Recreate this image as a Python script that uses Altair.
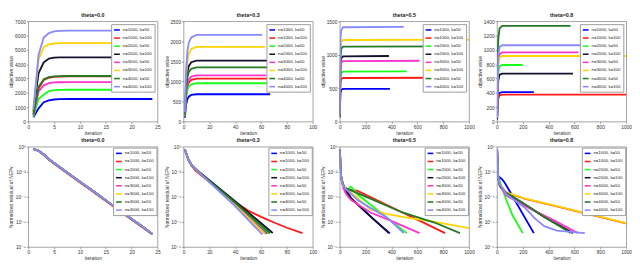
import altair as alt
import pandas as pd

series = ["n=1000, k=50", "n=1000, k=100", "n=2000, k=50", "n=2000, k=100",
          "n=3000, k=50", "n=3000, k=100", "n=4000, k=50", "n=4000, k=100"]
colors = ["#0000ff", "#ff1a1a", "#19ff19", "#12122e", "#ff33cc", "#ffd400", "#237a23", "#8a8aff"]

titles = ["theta=0.0", "theta=0.3", "theta=0.5", "theta=0.8"]

# ---------- top row: objective value ----------
t00_obj_x = [1, 2, 3, 4, 5, 6, 8, 24]
t00_obj_y = [
    [300, 920, 1350, 1480, 1540, 1565, 1575, 1575],
    [500, 2300, 2900, 3060, 3120, 3140, 3150, 3150],
    [350, 1570, 1890, 2120, 2190, 2210, 2220, 2220],
    [700, 3390, 4140, 4400, 4460, 4480, 4485, 4485],
    [450, 2100, 2530, 2680, 2730, 2745, 2750, 2750],
    [800, 4360, 5210, 5390, 5450, 5470, 5480, 5480],
    [500, 2420, 2960, 3100, 3160, 3175, 3180, 3180],
    [900, 4680, 5860, 6180, 6300, 6330, 6350, 6350],
]

t03_obj_x = [
    [1, 2, 3, 4, 6, 10, 67], [1, 2, 3, 4, 6, 10, 92], [1, 2, 3, 4, 6, 10, 65], [1, 2, 3, 4, 6, 10, 69],
    [1, 2, 3, 4, 6, 10, 64], [1, 2, 3, 4, 6, 10, 63], [1, 2, 3, 4, 6, 10, 67], [1, 2, 3, 4, 6, 10, 61],
]
t03_obj_y = [
    [100, 420, 560, 620, 665, 680, 680],
    [150, 650, 870, 970, 1040, 1070, 1070],
    [130, 580, 780, 870, 930, 955, 955],
    [180, 900, 1230, 1380, 1480, 1520, 1520],
    [150, 700, 940, 1050, 1120, 1150, 1150],
    [200, 1100, 1500, 1690, 1810, 1860, 1860],
    [170, 800, 1100, 1230, 1315, 1350, 1350],
    [230, 1300, 1750, 1960, 2100, 2160, 2160],
]

t05_obj_x = [
    [1, 3, 6, 12, 25, 388], [1, 3, 6, 12, 25, 815], [1, 3, 6, 12, 25, 518], [1, 3, 6, 12, 25, 380],
    [1, 3, 6, 12, 25, 617], [1, 3, 6, 12, 25, 1000], [1, 3, 6, 12, 25, 930], [1, 3, 6, 12, 25, 495],
]
t05_obj_y = [
    [60, 300, 430, 475, 488, 490],
    [70, 400, 580, 635, 652, 655],
    [80, 460, 660, 725, 747, 750],
    [90, 600, 860, 950, 976, 980],
    [90, 560, 800, 880, 905, 910],
    [100, 750, 1080, 1190, 1220, 1225],
    [100, 690, 990, 1090, 1120, 1125],
    [110, 870, 1250, 1370, 1410, 1415],
]

t08_obj_x = [
    [1, 4, 10, 20, 40, 285], [1, 4, 10, 20, 40, 1000], [1, 4, 10, 20, 40, 200], [1, 4, 10, 20, 40, 588],
    [1, 4, 10, 20, 40, 630], [1, 4, 10, 20, 40, 1000], [1, 4, 10, 20, 40, 570], [1, 4, 10, 20, 40, 680],
]
t08_obj_y = [
    [30, 200, 350, 400, 410, 410],
    [30, 180, 320, 365, 375, 375],
    [40, 380, 680, 770, 790, 790],
    [40, 320, 570, 655, 670, 670],
    [50, 460, 830, 940, 965, 965],
    [50, 440, 790, 890, 915, 915],
    [60, 640, 1150, 1300, 1335, 1335],
    [50, 510, 920, 1040, 1065, 1065],
]

# ---------- bottom row: normalized residual ----------
t00_res_x = [1, 2, 3, 4, 5, 6, 8, 10, 12, 14, 16, 18, 20, 22, 24]
t00_res_main = [0.66, 0.47, 0.24, 0.1, 0.049, 0.025, 6.3e-3, 1.6e-3, 4.1e-4, 1.05e-4,
                2.6e-5, 6.7e-6, 1.7e-6, 4.4e-7, 1.1e-7]
t00_res_red = [0.62, 0.43, 0.21, 0.088, 0.043, 0.022, 5.5e-3, 1.4e-3, 3.6e-4, 9.2e-5,
               2.3e-5, 5.9e-6, 1.5e-6, 3.9e-7, 9.7e-8]

t03_res_x = [
    [1, 2, 3, 4, 6, 9, 38, 65],
    [1, 2, 3, 4, 6, 9, 20, 38, 50, 60, 70, 80, 92],
    [1, 2, 3, 4, 6, 9, 38, 66],
    [1, 2, 3, 4, 6, 9, 38, 69],
    [1, 2, 3, 4, 6, 9, 38, 64],
    [1, 2, 3, 4, 6, 9, 38, 63],
    [1, 2, 3, 4, 6, 9, 38, 67],
    [1, 2, 3, 4, 6, 9, 38, 61],
]
t03_res_y = [
    [0.6, 0.3, 0.16, 0.085, 0.038, 0.017, 4e-5, 1.2e-7],
    [0.6, 0.3, 0.15, 0.075, 0.033, 0.013, 1.5e-3, 5e-5, 7.9e-6, 2.5e-6, 8.9e-7, 3.4e-7, 1.25e-7],
    [0.6, 0.3, 0.16, 0.085, 0.038, 0.017, 4.5e-5, 1.2e-7],
    [0.6, 0.3, 0.16, 0.085, 0.038, 0.017, 6.3e-5, 1.3e-7],
    [0.6, 0.3, 0.16, 0.085, 0.038, 0.017, 3.5e-5, 1.1e-7],
    [0.6, 0.3, 0.16, 0.085, 0.038, 0.017, 3.2e-5, 1.1e-7],
    [0.6, 0.3, 0.16, 0.085, 0.038, 0.017, 5e-5, 1.2e-7],
    [0.6, 0.3, 0.16, 0.085, 0.038, 0.017, 2.8e-5, 1e-7],
]

t05_res_x = [
    [1, 5, 12, 25, 50, 90, 150, 250, 388],
    [1, 5, 12, 25, 38, 65, 100, 138, 237, 485, 600, 815],
    [1, 5, 12, 25, 38, 58, 83, 100, 138, 518],
    [1, 5, 12, 25, 50, 90, 150, 250, 380],
    [1, 5, 12, 26, 50, 88, 237, 385, 617],
    [1, 5, 12, 26, 63, 113, 237, 360, 485, 733, 1000],
    [1, 5, 12, 25, 38, 113, 237, 485, 733, 930],
    [1, 5, 12, 25, 38, 138, 237, 360, 495],
]
t05_res_y = [
    [0.63, 0.03, 3e-3, 9e-4, 3e-4, 7e-5, 1.9e-5, 2.1e-6, 1.2e-7],
    [0.63, 0.03, 3e-3, 1e-3, 5.2e-4, 4e-4, 3.4e-4, 3e-4, 9.5e-5, 5.6e-6, 1.5e-6, 1.26e-7],
    [0.63, 0.03, 3e-3, 1e-3, 5.2e-4, 3e-4, 6.3e-4, 4.7e-4, 1.5e-4, 1.26e-7],
    [0.63, 0.03, 3e-3, 9e-4, 3e-4, 7e-5, 1.9e-5, 2.1e-6, 1.26e-7],
    [0.63, 0.03, 3e-3, 5.2e-4, 1.6e-4, 5.5e-5, 5.6e-6, 1.4e-6, 1.26e-7],
    [0.63, 0.03, 3e-3, 7e-4, 3.2e-4, 1.3e-4, 1e-5, 4.3e-6, 2.5e-6, 1e-6, 3.2e-7],
    [0.63, 0.03, 3e-3, 1e-3, 5.2e-4, 2.5e-4, 7.2e-5, 5.6e-6, 8.9e-7, 1.26e-7],
    [0.63, 0.03, 3e-3, 9e-4, 5e-4, 5.5e-5, 1.3e-5, 2.5e-6, 1.26e-7],
]

t08_res_x = [
    [1, 4, 10, 20, 40, 60, 84, 285],
    [1, 4, 10, 23, 72, 219, 463, 707, 1000],
    [1, 4, 10, 23, 72, 121, 200],
    [1, 4, 10, 23, 72, 121, 219, 365, 588],
    [1, 4, 10, 23, 72, 219, 463, 625],
    [1, 4, 10, 23, 72, 219, 463, 707, 1000],
    [1, 4, 10, 23, 72, 121, 219, 365, 570],
    [1, 4, 10, 23, 72, 219, 291, 365, 463, 680],
]
t08_res_y = [
    [0.63, 0.05, 4e-3, 3.8e-3, 2.5e-3, 1.3e-3, 5e-4, 1.26e-7],
    [0.6, 0.05, 3e-3, 9.5e-4, 2.1e-4, 6.8e-5, 1.7e-5, 4.1e-6, 7.6e-7],
    [0.63, 0.05, 5e-3, 1.6e-3, 5.5e-5, 3.2e-6, 1.26e-7],
    [0.63, 0.05, 3e-3, 7e-4, 2e-4, 1e-4, 2.3e-5, 2.5e-6, 1.26e-7],
    [0.63, 0.05, 3e-3, 7e-4, 1.26e-4, 1.8e-5, 1e-6, 1.26e-7],
    [0.63, 0.05, 3e-3, 1e-3, 2.2e-4, 7.2e-5, 1.8e-5, 4.3e-6, 8e-7],
    [0.63, 0.05, 3e-3, 7.2e-4, 2.1e-4, 1.05e-4, 2.4e-5, 2.6e-6, 1.3e-7],
    [0.63, 0.05, 3e-3, 1e-3, 1.6e-4, 1.26e-5, 2e-6, 4.5e-7, 2e-7, 1.26e-7],
]

# axis ticks
x_ticks_25 = [0, 5, 10, 15, 20, 25]
x_ticks_100 = [0, 20, 40, 60, 80, 100]
x_ticks_1000 = [0, 200, 400, 600, 800, 1000]
y_ticks_obj = [
    [0, 1000, 2000, 3000, 4000, 5000, 6000, 7000],
    [0, 500, 1000, 1500, 2000, 2500],
    [0, 500, 1000, 1500],
    [0, 200, 400, 600, 800, 1000, 1200, 1400],
]
log_ticks = [1, 1e-2, 1e-4, 1e-6, 1e-8]
log_tick_labels = ["10\u2070", "10\u207b\u00b2", "10\u207b\u2074", "10\u207b\u2076", "10\u207b\u2078"]

W, H = 134, 104
FONT = "Liberation Sans, DejaVu Sans, sans-serif"


def frame(xs, ys):
    rows = []
    for s, xl, yl in zip(series, xs, ys):
        for xv, yv in zip(xl, yl):
            rows.append({"s": s, "x": xv, "y": yv})
    return pd.DataFrame(rows)


def legend(offset):
    return alt.Legend(
        orient="top-right", offset=offset, title=None, fillColor="white", strokeColor="#9a9a9a",
        padding=2, labelFontSize=4.5, labelFont=FONT, labelColor="#222", symbolType="stroke",
        symbolStrokeWidth=1.6, symbolSize=36, rowPadding=0.4, labelOffset=2, labelLimit=80,
    )


def panel(df, title, xticks, yscale, yaxis, loff):
    return alt.Chart(df, title=alt.Title(title)).mark_line(strokeWidth=1.9, clip=True).encode(
        x=alt.X("x:Q", scale=alt.Scale(domain=[xticks[0], xticks[-1]], nice=False, zero=False),
                axis=alt.Axis(values=xticks, title="iteration", format="d",
                              labelFlush=False, labelOverlap=False)),
        y=alt.Y("y:Q", scale=yscale, axis=yaxis),
        color=alt.Color("s:N", scale=alt.Scale(domain=series, range=colors), legend=legend(loff)),
        detail="s:N",
    ).properties(width=W, height=H)


def obj_panel(xs, ys, i, xticks):
    yt = y_ticks_obj[i]
    return panel(frame(xs, ys), titles[i], xticks,
                 alt.Scale(domain=[yt[0], yt[-1]], nice=False),
                 alt.Axis(values=yt, title="objective value", format="d", labelFlush=False,
                          minExtent=14, maxExtent=14), 3)


label_expr = " : ".join(
    f"datum.value >= {v * 0.5} ? '{l}'" for v, l in zip(log_ticks[:-1], log_tick_labels[:-1])
) + f" : '{log_tick_labels[-1]}'"


def res_panel(xs, ys, i, xticks):
    return panel(frame(xs, ys), titles[i], xticks,
                 alt.Scale(type="log", domain=[1e-8, 1], nice=False),
                 alt.Axis(values=log_ticks, labelExpr=label_expr, title="Normalized residual of NEPv",
                          labelFlush=False, minExtent=14, maxExtent=14), 1)


top = alt.hconcat(
    obj_panel([t00_obj_x] * 8, t00_obj_y, 0, x_ticks_25),
    obj_panel(t03_obj_x, t03_obj_y, 1, x_ticks_100),
    obj_panel(t05_obj_x, t05_obj_y, 2, x_ticks_1000),
    obj_panel(t08_obj_x, t08_obj_y, 3, x_ticks_1000),
    spacing=2,
).resolve_scale(color="independent").resolve_legend(color="independent")

t00_res_y = [t00_res_main, t00_res_red] + [t00_res_main] * 6
bottom = alt.hconcat(
    res_panel([t00_res_x] * 8, t00_res_y, 0, x_ticks_25),
    res_panel(t03_res_x, t03_res_y, 1, x_ticks_100),
    res_panel(t05_res_x, t05_res_y, 2, x_ticks_1000),
    res_panel(t08_res_x, t08_res_y, 3, x_ticks_1000),
    spacing=2,
).resolve_scale(color="independent").resolve_legend(color="independent")

chart = alt.vconcat(top, bottom, spacing=2).resolve_scale(color="independent").resolve_legend(
    color="independent"
).properties(padding=0).configure(background="white", font=FONT).configure_view(
    stroke="#8a8a8a", strokeWidth=0.8
).configure_axis(
    domain=False, grid=False, tickSize=2, tickColor="#666", tickWidth=0.6,
    labelFontSize=5, labelColor="#333", labelFont=FONT, labelPadding=1,
    titleFontSize=5, titleColor="#333", titleFont=FONT, titleFontWeight="normal", titlePadding=1,
).configure_title(
    fontSize=5.5, fontWeight="bold", font=FONT, color="#222", offset=1
)

chart.save("out.html", embed_options={"renderer": "svg", "actions": False})
